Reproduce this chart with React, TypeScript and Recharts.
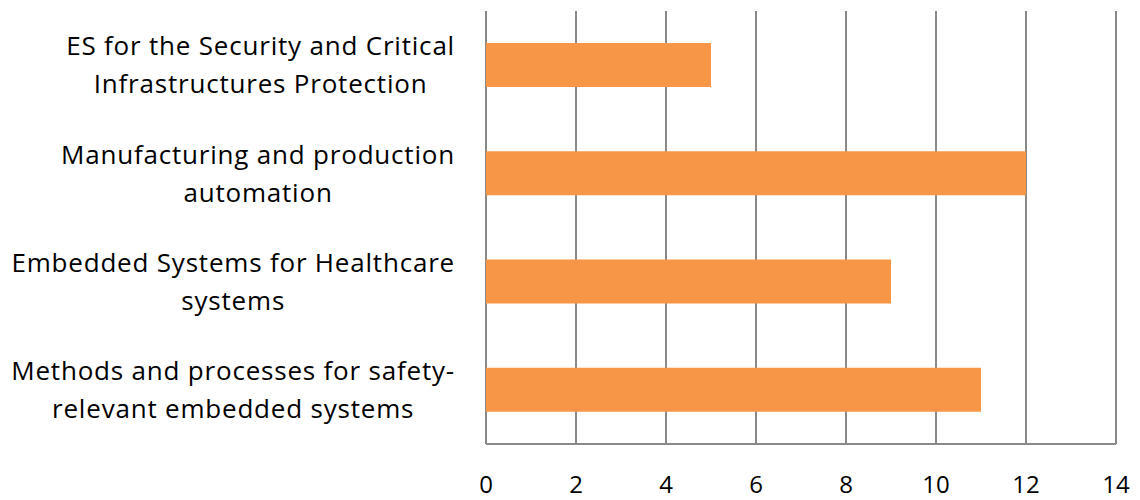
import React from "react";
import { BarChart, Bar, XAxis, YAxis, CartesianGrid } from "recharts";

// Category names carry their own line breaks
const categories = [
  "ES for the Security and Critical\nInfrastructures Protection",
  "Manufacturing and production\nautomation",
  "Embedded Systems for Healthcare\nsystems",
  "Methods and processes for safety-\nrelevant embedded systems",
];
const counts = [5, 12, 9, 11];
const xTicks = [0, 2, 4, 6, 8, 10, 12, 14];

const data = categories.map((name, i) => ({ name, value: counts[i] }));

const FONT = "'Open Sans', 'Liberation Sans', sans-serif";
const LABEL_SIZE = 26;
const LABEL_SPACING = 0.8;
const LINE_GAP = 38;
const GRID = "#898989";

let ctx: CanvasRenderingContext2D | null = null;
const measure = (s: string) => {
  if (!ctx) ctx = document.createElement("canvas").getContext("2d");
  ctx!.font = `${LABEL_SIZE}px 'Open Sans'`;
  return ctx!.measureText(s).width + s.length * LABEL_SPACING;
};

// multi-line label: lines centred on each other, block flush right
const CategoryTick = ({ x, y, payload }: any) => {
  const lines = String(payload.value).split("\n");
  const widest = Math.max(...lines.map(measure));
  const cx = x - widest / 2;
  const first = y - ((lines.length - 1) * LINE_GAP) / 2 + LABEL_SIZE * 0.36;
  return (
    <text
      textAnchor="middle"
      fontFamily={FONT}
      fontSize={LABEL_SIZE}
      letterSpacing={LABEL_SPACING}
      fill="#000"
    >
      {lines.map((l, i) => (
        <tspan key={i} x={cx} y={first + i * LINE_GAP}>
          {l}
        </tspan>
      ))}
    </text>
  );
};

export default function App() {
  return (
    <div style={{ position: "absolute", left: 0, top: 0, background: "#fff" }}>
      <BarChart
        width={1140}
        height={500}
        data={data}
        layout="vertical"
        margin={{ top: 11, right: 24, bottom: 0, left: 0 }}
      >
        <CartesianGrid horizontal={false} stroke={GRID} strokeWidth={2} />
        <XAxis
          type="number"
          domain={[0, 14]}
          ticks={xTicks}
          height={56}
          tickLine={false}
          tickMargin={26}
          axisLine={{ stroke: GRID, strokeWidth: 2 }}
          tick={{ fontFamily: FONT, fontSize: 24, fill: "#000" }}
        />
        <YAxis
          type="category"
          dataKey="name"
          width={486}
          axisLine={false}
          tickLine={false}
          tickSize={0}
          tickMargin={31}
          interval={0}
          tick={<CategoryTick />}
        />
        <Bar dataKey="value" fill="#F79646" barSize={44} isAnimationActive={false} />
      </BarChart>
    </div>
  );
}
